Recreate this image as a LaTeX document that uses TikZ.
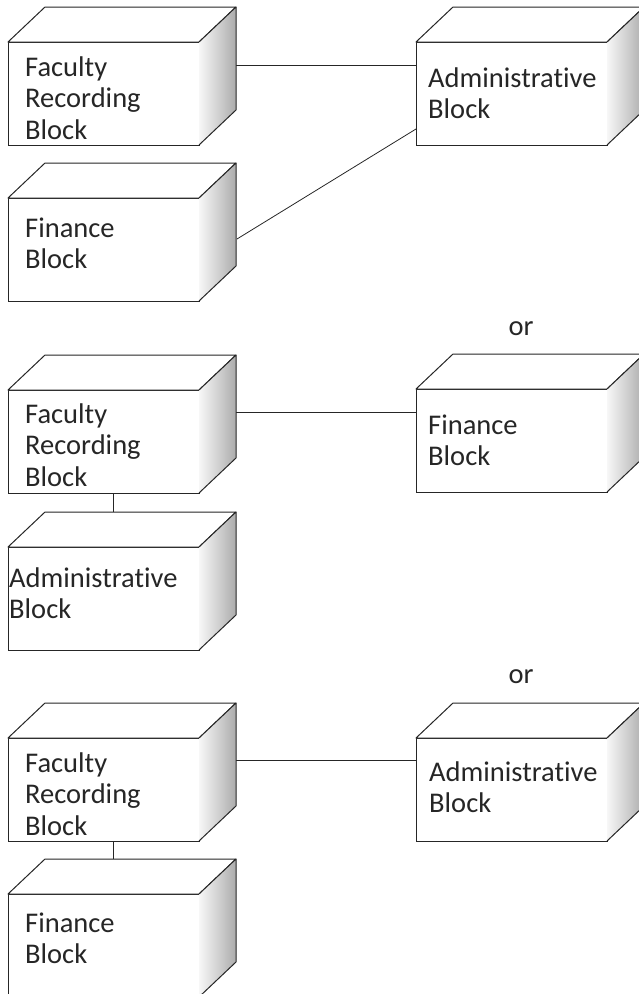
\documentclass[tikz,border=0pt]{standalone}
\usepackage{fontspec}
\setmainfont{Carlito}[Ligatures=NoCommon]
\usepackage{pgf, tikz}
\pgfdeclarelayer{edgelayer}
\pgfdeclarelayer{nodelayer}
\pgfsetlayers{edgelayer,nodelayer,main}
\tikzstyle{edge}=[draw=black!85, line width=0.8pt]
\tikzstyle{block}=[rectangle, draw=black!85, fill=white, line width=1pt, minimum width=191pt, minimum height=103pt, anchor=north west, inner sep=0pt, outer sep=0pt]
\tikzstyle{blocktext}=[anchor=base west, align=left, inner sep=0pt, text=black!85, font=\fontsize{28.5}{31.5}\selectfont]
\tikzstyle{choice}=[anchor=base, inner sep=0pt, text=black!85, font=\fontsize{28.5}{31.5}\selectfont]
\newcommand{\blockfaces}[1]{%
	\filldraw[fill=white, draw=black!85, line width=1pt, line join=round] (#1.north west) -- ++(37,35) -- ++(191,0) -- (#1.north east) -- cycle;
	\shade[left color=gray!6, right color=gray!65] (#1.north east) -- ++(37,35) -- ++(0,-103) -- (#1.south east) -- cycle;
	\draw[draw=black!85, line width=1pt, line join=round] (#1.north east) -- ++(37,35) -- ++(0,-103) -- (#1.south east);
}

\begin{document}
\begin{tikzpicture}[x=1pt, y=1pt]
				\useasboundingbox (0,0) rectangle (639,-994);
				\begin{pgfonlayer}{nodelayer}
					\node [style=block] (0) at (8, -42) {};
					\node [style=block] (1) at (416, -42) {};
					\node [style=block] (2) at (8, -198) {};
					\node [style=block] (3) at (8, -390) {};
					\node [style=block] (4) at (416, -389) {};
					\node [style=block] (5) at (8, -547) {};
					\node [style=block] (6) at (8, -738) {};
					\node [style=block] (7) at (416, -738) {};
					\node [style=block] (8) at (8, -894) {};
					\foreach \n in {0,...,8} {\blockfaces{\n}}
					% text nodes are anchored at the baseline of their last line
					\node [style=blocktext] (t0) at ([shift={(17,-97)}]0.north west) {Faculty\\Recording\\Block};
					\node [style=blocktext] (t1) at ([shift={(12,-76.5)}]1.north west) {Administrative\\Block};
					\node [style=blocktext] (t2) at ([shift={(17,-70.5)}]2.north west) {Finance\\Block};
					\node [style=blocktext] (t3) at ([shift={(17,-96)}]3.north west) {Faculty\\Recording\\Block};
					\node [style=blocktext] (t4) at ([shift={(12,-76.5)}]4.north west) {Finance\\Block};
					\node [style=blocktext] (t5) at ([shift={(1,-71.5)}]5.north west) {Administrative\\Block};
					\node [style=blocktext] (t6) at ([shift={(17,-97)}]6.north west) {Faculty\\Recording\\Block};
					\node [style=blocktext] (t7) at ([shift={(13,-74.5)}]7.north west) {Administrative\\Block};
					\node [style=blocktext] (t8) at ([shift={(17,-69.5)}]8.north west) {Finance\\Block};
					\node [style=choice] (o1) at (521, -335) {or};
					\node [style=choice] (o2) at (521, -683) {or};
				\end{pgfonlayer}
				\begin{pgfonlayer}{edgelayer}
					\draw [style=edge] ([yshift=-23pt]0.north east) to ([yshift=-23pt]1.north west);
					\draw [style=edge] ([shift={(38,-41)}]2.north east) to ([yshift=-87pt]1.north west);
					\draw [style=edge] ([yshift=-22pt]3.north east) to ([yshift=-23pt]4.north west);
					\draw [style=edge] ([xshift=10pt]3.south) to ([xshift=10pt]5.north);
					\draw [style=edge] ([yshift=-22pt]6.north east) to ([yshift=-22pt]7.north west);
					\draw [style=edge] ([xshift=10pt]6.south) to ([xshift=10pt]8.north);
				\end{pgfonlayer}
			\end{tikzpicture}
\end{document}
